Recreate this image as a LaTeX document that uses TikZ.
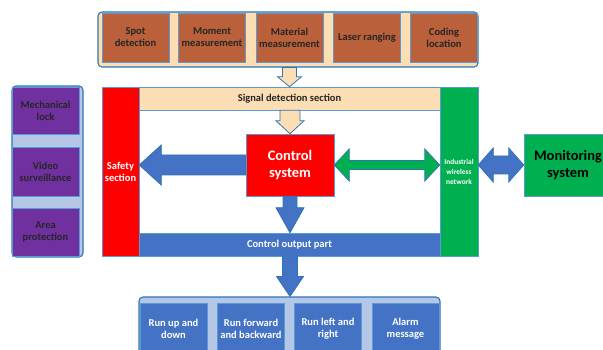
\documentclass[tikz,border=0pt]{standalone}
\usepackage{fontspec}
\setmainfont{Carlito}
\usetikzlibrary{calc}
\definecolor{brownbox}{RGB}{186,96,58}
\definecolor{peach}{RGB}{251,222,180}
\definecolor{bluebox}{RGB}{68,114,196}
\definecolor{lightblue}{RGB}{180,199,231}
\definecolor{purplebox}{RGB}{112,48,160}
\definecolor{redbox}{RGB}{255,0,0}
\definecolor{greenbox}{RGB}{0,176,80}
\definecolor{edgeblue}{RGB}{46,117,182}
\definecolor{thinedge}{RGB}{91,155,213}
\definecolor{darktext}{RGB}{38,38,38}
\tikzset{
  boxbase/.style={draw=thinedge, line width=0.5pt, inner sep=0pt, align=center,
    font=\fontsize{10.5}{12}\selectfont\bfseries},
  contbox/.style={draw=edgeblue, line width=1.1pt, rounded corners=4pt, inner sep=0pt},
  arrbase/.style={draw=edgeblue, line width=0.8pt, line join=miter},
}
\newcommand\varrow[6]{% style, from, to, shaft half, head half, head length
  \draw[#1] let \p1=(#2), \p2=(#3) in
    (\x2-#4pt,\y1) -- (\x2-#4pt,\y2+#6pt) -- (\x2-#5pt,\y2+#6pt) -- (\x2,\y2)
    -- (\x2+#5pt,\y2+#6pt) -- (\x2+#4pt,\y2+#6pt) -- (\x2+#4pt,\y1) -- cycle;}
\newcommand\larrow[6]{% style, from (right), to (left)
  \draw[#1] let \p1=(#2), \p2=(#3) in
    (\x1,\y1+#4pt) -- (\x2+#6pt,\y1+#4pt) -- (\x2+#6pt,\y1+#5pt) -- (\x2,\y1)
    -- (\x2+#6pt,\y1-#5pt) -- (\x2+#6pt,\y1-#4pt) -- (\x1,\y1-#4pt) -- cycle;}
\newcommand\darrow[6]{% style, left, right
  \draw[#1] let \p1=(#2), \p2=(#3) in
    (\x1,\y1) -- (\x1+#6pt,\y1+#5pt) -- (\x1+#6pt,\y1+#4pt) -- (\x2-#6pt,\y1+#4pt)
    -- (\x2-#6pt,\y1+#5pt) -- (\x2,\y1) -- (\x2-#6pt,\y1-#5pt) -- (\x2-#6pt,\y1-#4pt)
    -- (\x1+#6pt,\y1-#4pt) -- (\x1+#6pt,\y1-#5pt) -- cycle;}
\begin{document}
\begin{tikzpicture}[x=1pt,y=-1pt]
\useasboundingbox (0,0) rectangle (603,350);
\clip (0,0) rectangle (603,350);
% top container
\node[contbox, fill=peach, minimum width=380, minimum height=55] (top) at (288,39.5) {};
\foreach \n/\x/\t in {s1/135.5/{Spot\\detection}, s2/212/{Moment\\measurement},
  s3/289.5/{Material\\measurement}, s4/367/{Laser ranging}, s5/444/{Coding\\location}}
  \node[boxbase, fill=brownbox, text=darktext, minimum width=67, minimum height=49] (\n) at (\x,37.5) {\t};
% left container
\node[contbox, fill=lightblue, minimum width=71, minimum height=171] (left) at (47.5,171.5) {};
\node[boxbase, fill=purplebox, text=darktext, minimum width=67, minimum height=47] (m1) at (45.5,110.5) {Mechanical\\lock};
\node[boxbase, fill=purplebox, text=darktext, minimum width=67, minimum height=49] (m2) at (45.5,171.5) {Video\\surveillance};
\node[boxbase, fill=purplebox, text=darktext, minimum width=67, minimum height=48] (m3) at (45.5,232) {Area\\protection};
% main frame
\node[boxbase, fill=white, minimum width=376, minimum height=169] (frame) at (290,171.5) {};
\node[boxbase, fill=redbox, text=white, minimum width=37, minimum height=169] (safe) at (120.5,171.5) {Safety\\section};
\node[boxbase, fill=peach, text=darktext, minimum width=301, minimum height=23] (sig) at (289.5,98.5) {Signal detection section};
\node[boxbase, fill=greenbox, text=white, minimum width=38, minimum height=169,
  font=\fontsize{7.4}{10}\selectfont\bfseries] (ind) at (459,171.5) {Industrial\\wireless\\network};
\node[boxbase, fill=bluebox, text=white, minimum width=301, minimum height=23] (out) at (289.5,244.5) {Control output part};
\node[boxbase, fill=redbox, text=white, minimum width=88, minimum height=62,
  font=\fontsize{14.5}{17}\selectfont\bfseries] (ctrl) at (290,165) {Control\\system};
\node[boxbase, fill=greenbox, text=black, minimum width=88, minimum height=62,
  font=\fontsize{14.5}{17}\selectfont\bfseries] (mon) at (568,165) {Monitoring\\system};
% bottom container
\node[contbox, fill=lightblue, minimum width=301, minimum height=70] (bot) at (289.5,332) {};
\foreach \n/\x/\t in {b1/173.5/{Run up and\\down}, b2/251/{Run forward\\and backward},
  b3/328/{Run left and\\right}, b4/405.5/{Alarm\\message}}
  \node[boxbase, fill=bluebox, text=white, minimum width=67, minimum height=52] (\n) at (\x,329) {\t};
% arrows
\coordinate (topa) at (top.south -| sig.north);
\varrow{arrbase, fill=peach}{topa}{sig.north}{7}{12}{10}
\coordinate (siga) at (sig.south -| ctrl.north);
\varrow{arrbase, fill=peach}{siga}{ctrl.north}{10}{14}{13}
\larrow{arrbase, fill=bluebox}{ctrl.west}{safe.east}{10}{20}{22}
\darrow{arrbase, fill=greenbox}{ctrl.east}{ind.west}{4.5}{16}{15}
\coordinate (indr) at (ind.east |- mon.west);
\darrow{arrbase, fill=bluebox}{indr}{mon.west}{9}{17}{15}
\coordinate (outa) at (ctrl.south);
\coordinate (outt) at (out.north -| ctrl.south);
\varrow{arrbase, fill=bluebox}{outa}{outt}{7}{14}{25}
\coordinate (bota) at (out.south -| ctrl.south);
\coordinate (bott) at (bot.north -| ctrl.south);
\varrow{arrbase, fill=bluebox}{bota}{bott}{7.5}{13.5}{20}
\end{tikzpicture}
\end{document}
